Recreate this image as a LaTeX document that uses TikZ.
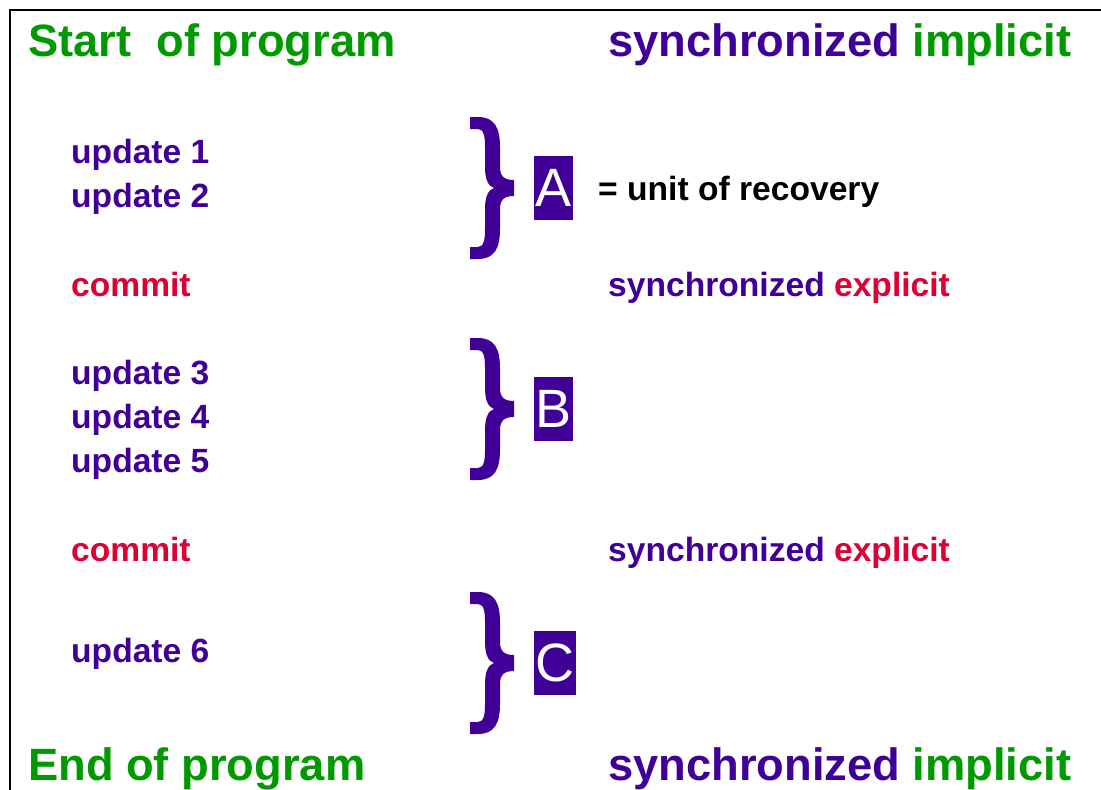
\documentclass[tikz,border=0pt]{standalone}
\usepackage{fontspec}
\setmainfont{Liberation Sans}
\usetikzlibrary{positioning}
\definecolor{uorGreen}{HTML}{009900}
\definecolor{uorPurple}{HTML}{400098}
\definecolor{uorRed}{HTML}{DD0033}

\begin{document}
\begin{tikzpicture}[
  x=1pt,y=-1pt,
  big/.style={font=\fontsize{45.3}{54}\selectfont\bfseries, anchor=base west,
    inner sep=0pt},
  txt/.style={font=\fontsize{33.6}{40}\selectfont\bfseries, anchor=base west,
    inner sep=0pt},
  unit/.style={fill=uorPurple, text=white, font=\fontsize{54}{60}\selectfont,
    minimum width=39pt, minimum height=64pt, inner sep=0pt},
  frame/.style={draw=black, line width=1.5pt},
  curly/.pic={
    \fill[uorPurple] (0,0) -- (8,0) .. controls (24,0) and (30,10) .. (30,30)
      -- (30,50) .. controls (30,60) and (35,63) .. (44,63) -- (44,79)
      .. controls (35,79) and (30,82) .. (30,92) -- (30,112)
      .. controls (30,132) and (24,142) .. (8,142) -- (0,142) -- (0,130)
      -- (8,130) .. controls (14,130) and (15,122) .. (15,112) -- (15,92)
      .. controls (15,80) and (18,73) .. (24,71)
      .. controls (18,69) and (15,62) .. (15,50) -- (15,30)
      .. controls (15,20) and (14,12) .. (8,12) -- (0,12) -- cycle;
  }
]
\useasboundingbox (0,0) rectangle (1101,790);
\draw[frame] (10,790) -- (10,10) -- (1101,10);

% program start and end
\node[big, text=uorGreen] (start) at (28,56) {Start~~of program};
\node[big] (syncTop) at (608,56)
  {\textcolor{uorPurple}{synchronized} \textcolor{uorGreen}{implicit}};
\node[big, text=uorGreen] (end) at (28,780) {End of program};
\node[big] (syncBot) at (608,780)
  {\textcolor{uorPurple}{synchronized} \textcolor{uorGreen}{implicit}};

% updates
\foreach \n/\y in {1/163,2/207,3/384,4/428,5/472,6/662} {
  \node[txt, text=uorPurple] (upd\n) at (71,\y) {update \n};
}

% commits
\foreach \n/\y in {1/296,2/561} {
  \node[txt, text=uorRed] (commit\n) at (71,\y) {commit};
  \node[txt] (syncExp\n) at (608,\y)
    {\textcolor{uorPurple}{synchronized} \textcolor{uorRed}{explicit}};
}

% units of recovery
\pic at (470,117) {curly};
\pic at (470,338) {curly};
\pic at (470,592) {curly};
\node[unit] (unitA) at (553.5,188) {A};
\node[unit] (unitB) at (553.5,409) {B};
\node[unit, minimum width=42pt] (unitC) at (555,663) {C};
\node[txt] (unitTxt) at (598,200) {= unit of recovery};
\end{tikzpicture}
\end{document}
